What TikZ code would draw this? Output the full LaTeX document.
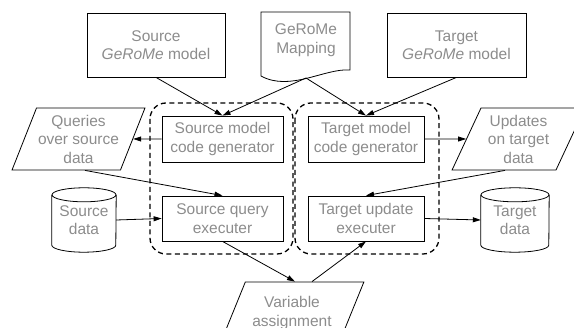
\documentclass[tikz,border=0pt]{standalone}
\usepackage{fontspec}
\setmainfont{Liberation Sans}
\usetikzlibrary{arrows.meta,shapes.geometric,calc}
\definecolor{labelgray}{RGB}{140,140,140}
\tikzset{
  lbl/.style={text=labelgray, font=\fontsize{15.5}{18.5}\selectfont, align=center, inner sep=0pt},
  shapeline/.style={draw=black, line width=0.8pt},
  procbox/.style={lbl, shapeline, rectangle, minimum width=#1, minimum height=45pt},
  modelbox/.style={lbl, shapeline, rectangle, minimum width=#1, minimum height=64pt},
  iobox/.style={lbl, shapeline, trapezium, trapezium stretches=true,
    trapezium left angle=#1, trapezium right angle=180-#1,
    minimum width=133pt, minimum height=62pt},
  cylnode/.style={lbl, minimum width=#1, minimum height=64pt},
  group/.style={draw=black, line width=1.3pt, dash pattern=on 5pt off 3.5pt, rounded corners=16pt},
  flow/.style={draw=black, line width=0.8pt, -{Triangle[length=8pt,width=5pt]}}
}
\begin{document}
\begin{tikzpicture}[x=1pt,y=-1pt]
\useasboundingbox (0,0) rectangle (574,328);
\clip (0,0) rectangle (574,328);

% dashed groups around the generator/executer pairs
\draw[group] (150,103) rectangle (293,254);
\draw[group] (295,103) rectangle (439,254);

% models and mapping
\node[modelbox=138pt] (smodel) at (156,45) {Source\\\textit{GeRoMe} model};
\node[modelbox=139pt] (tmodel) at (456.5,45) {Target\\\textit{GeRoMe} model};
\draw[shapeline] (261,12) -- (350,12) -- (350,70)
  .. controls (325,68) and (290,92) .. (261,76) -- cycle;
\node[lbl] (mapping) at (306,40) {GeRoMe\\Mapping};
\coordinate (mapout) at (306,78);

% generators and executers
\node[procbox=121pt, minimum height=46pt] (sgen) at (222.5,139) {Source model\\code generator};
\node[procbox=116pt, minimum height=46pt] (tgen) at (366,139) {Target model\\code generator};
\node[procbox=121pt] (sexec) at (222.5,218.5) {Source query\\executer};
\node[procbox=116pt] (texec) at (366,218.5) {Target update\\executer};

% data inputs and outputs
\node[iobox=64] (queries) at (78.5,139) {Queries\\over source\\data};
\node[iobox=64] (updates) at (518.5,139) {Updates\\on target\\data};
\node[iobox=57, minimum width=144pt] (vars) at (292,313) {Variable\\assignment};

% data stores
\node[cylnode=64pt] (sdata) at (84,220) {Source\\data};
\draw[shapeline] ($(sdata.north west)+(0,7)$) -- ($(sdata.south west)+(0,-7)$)
  arc[start angle=180, end angle=0, x radius=32, y radius=7]
  -- ($(sdata.north east)+(0,7)$);
\draw[shapeline] ($(sdata.north)+(0,7)$) ellipse[x radius=32, y radius=7];
\node[cylnode=68pt] (tdata) at (515,220) {Target\\data};
\draw[shapeline] ($(tdata.north west)+(0,7)$) -- ($(tdata.south west)+(0,-7)$)
  arc[start angle=180, end angle=0, x radius=34, y radius=7]
  -- ($(tdata.north east)+(0,7)$);
\draw[shapeline] ($(tdata.north)+(0,7)$) ellipse[x radius=34, y radius=7];

% connectors
\draw[flow] (smodel.south) -- (sgen.north);
\draw[flow] (mapout) -- (sgen.north);
\draw[flow] (mapout) -- (tgen.north);
\draw[flow] (tmodel.south) -- (tgen.north);
\draw[flow] (sgen.west) -- (queries);
\draw[flow] (tgen.east) -- (updates);
\draw[flow] ([xshift=6.5pt]queries.south) -- (sexec.north);
\draw[flow] ([xshift=-13.5pt]updates.south) -- (texec.north);
\draw[flow] (sdata.east) -- (sexec.west);
\draw[flow] (texec.east) -- (tdata.west);
\draw[flow] (sexec.south) -- ([xshift=3pt]vars.north);
\draw[flow] ([xshift=20pt]vars.north) -- (texec.south);
\end{tikzpicture}
\end{document}
